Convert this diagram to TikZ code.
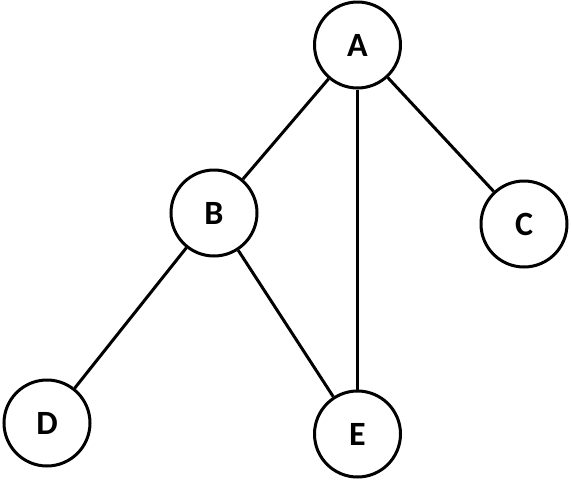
\documentclass[tikz,border=0pt]{standalone}
\usepackage{fontspec}
\setmainfont{Carlito}
\begin{document}
\begin{tikzpicture}[x=1pt,y=-1pt,
  vertex/.style={circle,draw=black,line width=3pt,minimum size=86pt,inner sep=0pt,
    font=\fontsize{34}{38}\selectfont\bfseries},
  edge/.style={line width=3pt,draw=black}]
\useasboundingbox (0,0) rectangle (571,480);
\node[vertex] (A) at (357.5,45) {A};
\node[vertex] (B) at (214,213) {B};
\node[vertex] (C) at (524,224) {C};
\node[vertex] (D) at (47,423) {D};
\node[vertex] (E) at (357.5,434) {E};
\draw[edge] (A) -- (B);
\draw[edge] (A) -- (C);
\draw[edge] (A) -- (E);
\draw[edge] (B) -- (D);
\draw[edge] (B) -- (E);
\end{tikzpicture}
\end{document}
